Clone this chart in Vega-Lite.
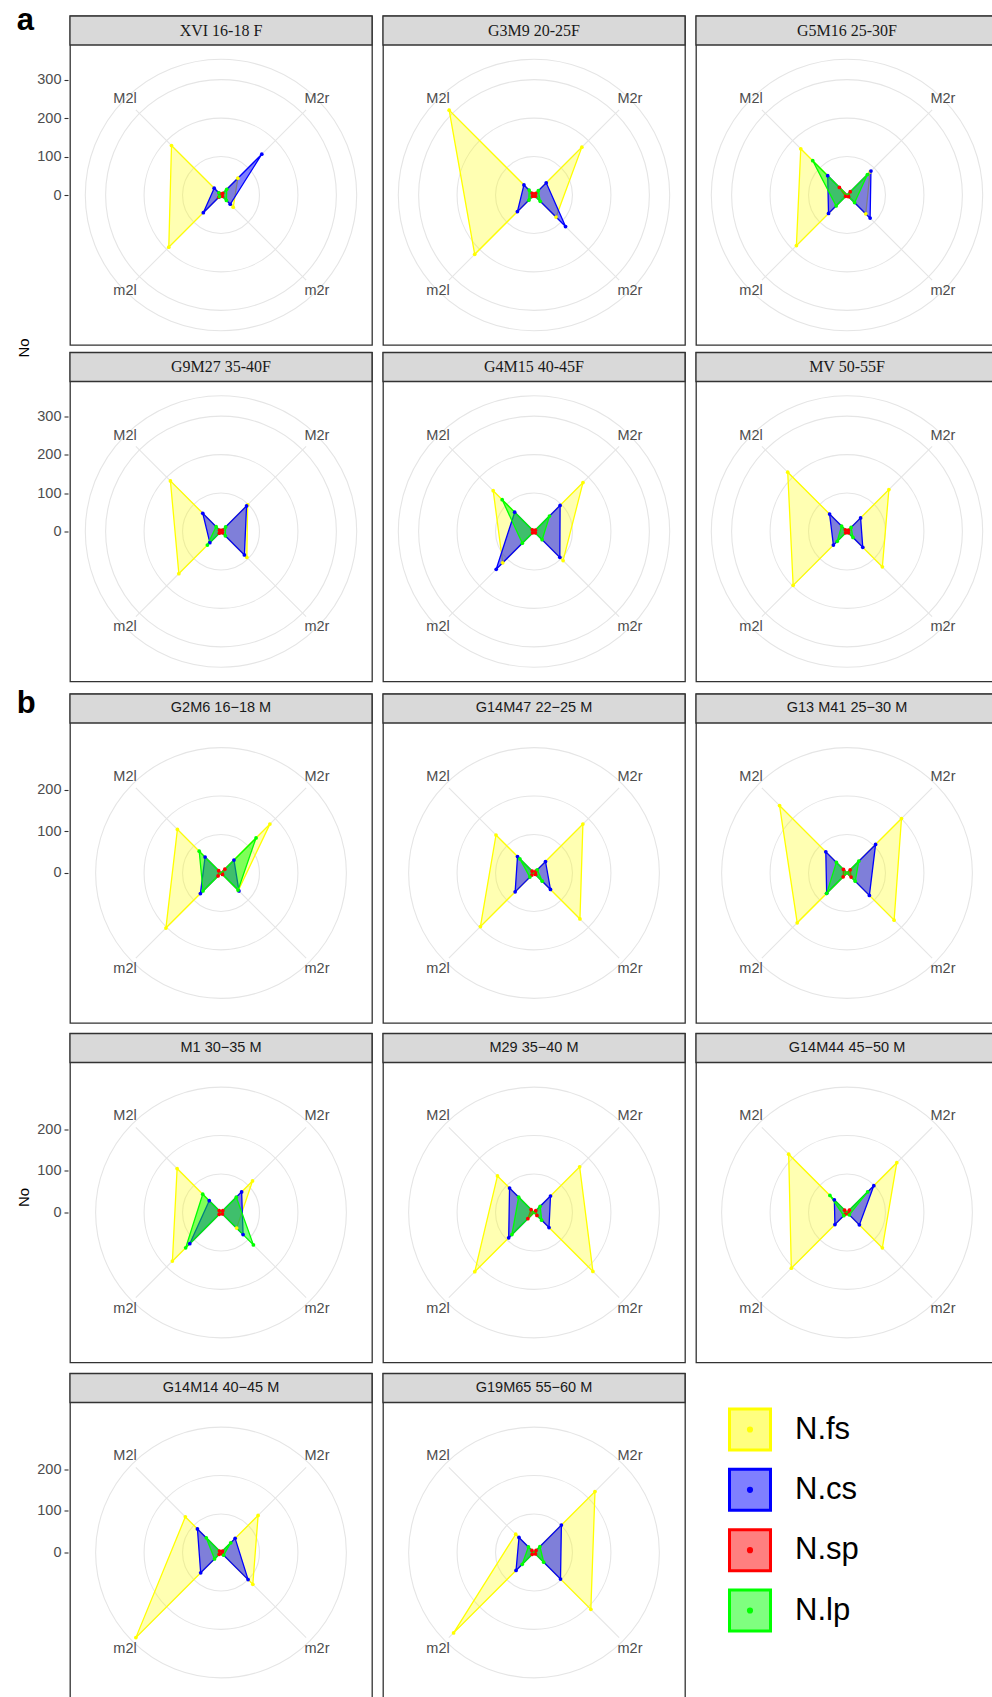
{
"$schema": "https://vega.github.io/schema/vega-lite/v6.json",
"background": "white",
"padding": {"left": 16, "top": 4, "right": 0, "bottom": 0},
"spacing": 4,
"datasets": {
"A": [
{"p":"XVI 16-18 F","s":"N.fs","M2r":62,"M2l":182,"m2l":192,"m2r":45},
{"p":"XVI 16-18 F","s":"N.cs","M2r":150,"M2l":25,"m2l":65,"m2r":34},
{"p":"XVI 16-18 F","s":"N.sp","M2r":6,"M2l":6,"m2l":8,"m2r":5},
{"p":"XVI 16-18 F","s":"N.lp","M2r":21,"M2l":8,"m2l":6,"m2r":20},
{"p":"G3M9 20-25F","s":"N.fs","M2r":176,"M2l":312,"m2l":218,"m2r":81},
{"p":"G3M9 20-25F","s":"N.cs","M2r":45,"M2l":37,"m2l":61,"m2r":116},
{"p":"G3M9 20-25F","s":"N.sp","M2r":6,"M2l":6,"m2l":5,"m2r":5},
{"p":"G3M9 20-25F","s":"N.lp","M2r":16,"M2l":18,"m2l":19,"m2r":23},
{"p":"G5M16 25-30F","s":"N.fs","M2r":85,"M2l":170,"m2l":186,"m2r":69},
{"p":"G5M16 25-30F","s":"N.cs","M2r":88,"M2l":71,"m2l":68,"m2r":85},
{"p":"G5M16 25-30F","s":"N.sp","M2r":12,"M2l":28,"m2l":5,"m2r":6},
{"p":"G5M16 25-30F","s":"N.lp","M2r":75,"M2l":126,"m2l":40,"m2r":28},
{"p":"G9M27 35-40F","s":"N.fs","M2r":98,"M2l":186,"m2l":155,"m2r":95},
{"p":"G9M27 35-40F","s":"N.cs","M2r":94,"M2l":67,"m2l":41,"m2r":86},
{"p":"G9M27 35-40F","s":"N.sp","M2r":5,"M2l":5,"m2l":6,"m2r":5},
{"p":"G9M27 35-40F","s":"N.lp","M2r":17,"M2l":18,"m2l":50,"m2r":16},
{"p":"G4M15 40-45F","s":"N.fs","M2r":180,"M2l":150,"m2l":115,"m2r":107},
{"p":"G4M15 40-45F","s":"N.cs","M2r":96,"M2l":71,"m2l":139,"m2r":95},
{"p":"G4M15 40-45F","s":"N.sp","M2r":5,"M2l":6,"m2l":5,"m2r":5},
{"p":"G4M15 40-45F","s":"N.lp","M2r":57,"M2l":117,"m2l":43,"m2r":30},
{"p":"MV 50-55F","s":"N.fs","M2r":154,"M2l":218,"m2l":198,"m2r":130},
{"p":"MV 50-55F","s":"N.cs","M2r":50,"M2l":64,"m2l":50,"m2r":58},
{"p":"MV 50-55F","s":"N.sp","M2r":5,"M2l":6,"m2l":5,"m2r":5},
{"p":"MV 50-55F","s":"N.lp","M2r":15,"M2l":20,"m2l":36,"m2r":22}
],
"B": [
{"p":"G2M6 16−18 M","s":"N.fs","M2r":166,"M2l":148,"m2l":187,"m2r":59},
{"p":"G2M6 16−18 M","s":"N.cs","M2r":44,"M2l":54,"m2l":70,"m2r":61},
{"p":"G2M6 16−18 M","s":"N.sp","M2r":13,"M2l":8,"m2l":10,"m2r":5},
{"p":"G2M6 16−18 M","s":"N.lp","M2r":119,"M2l":74,"m2l":61,"m2r":58},
{"p":"G14M47 22−25 M","s":"N.fs","M2r":166,"M2l":129,"m2l":182,"m2r":156},
{"p":"G14M47 22−25 M","s":"N.cs","M2r":39,"M2l":56,"m2l":64,"m2r":56},
{"p":"G14M47 22−25 M","s":"N.sp","M2r":6,"M2l":6,"m2l":7,"m2r":5},
{"p":"G14M47 22−25 M","s":"N.lp","M2r":11,"M2l":48,"m2l":14,"m2r":28},
{"p":"G13 M41 25−30 M","s":"N.fs","M2r":185,"M2l":229,"m2l":169,"m2r":160},
{"p":"G13 M41 25−30 M","s":"N.cs","M2r":97,"M2l":72,"m2l":69,"m2r":76},
{"p":"G13 M41 25−30 M","s":"N.sp","M2r":11,"M2l":12,"m2l":13,"m2r":14},
{"p":"G13 M41 25−30 M","s":"N.lp","M2r":40,"M2l":36,"m2l":69,"m2r":28},
{"p":"M1 30−35 M","s":"N.fs","M2r":107,"M2l":149,"m2l":165,"m2r":53},
{"p":"M1 30−35 M","s":"N.cs","M2r":70,"M2l":40,"m2l":106,"m2r":75},
{"p":"M1 30−35 M","s":"N.sp","M2r":6,"M2l":6,"m2l":6,"m2r":5},
{"p":"M1 30−35 M","s":"N.lp","M2r":52,"M2l":62,"m2l":120,"m2r":110},
{"p":"M29 35−40 M","s":"N.fs","M2r":155,"M2l":124,"m2l":201,"m2r":200},
{"p":"M29 35−40 M","s":"N.cs","M2r":56,"M2l":83,"m2l":86,"m2r":51},
{"p":"M29 35−40 M","s":"N.sp","M2r":6,"M2l":10,"m2l":21,"m2r":10},
{"p":"M29 35−40 M","s":"N.lp","M2r":21,"M2l":52,"m2l":75,"m2r":26},
{"p":"G14M44 45−50 M","s":"N.fs","M2r":169,"M2l":198,"m2l":189,"m2r":120},
{"p":"G14M44 45−50 M","s":"N.cs","M2r":91,"M2l":43,"m2l":41,"m2r":42},
{"p":"G14M44 45−50 M","s":"N.sp","M2r":8,"M2l":8,"m2l":6,"m2r":5},
{"p":"G14M44 45−50 M","s":"N.lp","M2r":70,"M2l":58,"m2l":11,"m2r":8},
{"p":"G14M14 40−45 M","s":"N.fs","M2r":126,"M2l":121,"m2l":289,"m2r":108},
{"p":"G14M14 40−45 M","s":"N.cs","M2r":48,"M2l":80,"m2l":69,"m2r":92},
{"p":"G14M14 40−45 M","s":"N.sp","M2r":5,"M2l":5,"m2l":6,"m2r":5},
{"p":"G14M14 40−45 M","s":"N.lp","M2r":33,"M2l":50,"m2l":22,"m2r":9},
{"p":"G19M65 55−60 M","s":"N.fs","M2r":207,"M2l":62,"m2l":273,"m2r":193},
{"p":"G19M65 55−60 M","s":"N.cs","M2r":93,"M2l":51,"m2l":61,"m2r":90},
{"p":"G19M65 55−60 M","s":"N.sp","M2r":7,"M2l":7,"m2l":6,"m2r":5},
{"p":"G19M65 55−60 M","s":"N.lp","M2r":20,"M2l":19,"m2l":40,"m2r":33}
],
"L": [{"s":"N.fs"},{"s":"N.cs"},{"s":"N.sp"},{"s":"N.lp"}]
},
"vconcat": [
{
"title": {"text": "a", "orient": "top", "anchor": "start", "frame": "bounds", "offset": -23, "fontSize": 31, "fontWeight": "bold", "font": "Liberation Sans", "color": "#000000"},
"vconcat": [
{
"title": {"text": "No", "orient": "left", "anchor": "middle", "offset": 5, "fontSize": 15, "fontWeight": "normal", "font": "Liberation Sans", "color": "#000000"},
"data": {"name": "A"},
"transform": [
{"fold": ["M2r","M2l","m2l","m2r"], "as": ["axis","r"]},
{"calculate": "(datum.axis == 'M2r' || datum.axis == 'm2r') ? 1 : -1", "as": "sx"},
{"calculate": "(datum.axis == 'M2r' || datum.axis == 'M2l') ? 1 : -1", "as": "sy"},
{"calculate": "datum.r * datum.sx * 0.70711", "as": "px"},
{"calculate": "datum.r * datum.sy * 0.70711", "as": "py"},
{"calculate": "indexof(['M2l','m2l','M2r','m2r'], datum.axis)", "as": "ord"},
{"calculate": "0", "as": "z"},
{"calculate": "-392.6", "as": "xa"},
{"calculate": "392.6", "as": "xb"},
{"calculate": "390", "as": "ya"},
{"calculate": "465.4", "as": "yb"},
{"calculate": "427.7", "as": "yt"},
{"calculate": "datum.sx * 221.3", "as": "gx"},
{"calculate": "datum.sy * 221.3", "as": "gy"},
{"calculate": "datum.sx * 249.5", "as": "lx"},
{"calculate": "datum.sy * 249.5", "as": "ly"}
],
"facet": {"field": "p", "type": "nominal", "title": null, "header": {"labelExpr": "''", "labelPadding": 0, "labelFontSize": 1},
"sort": ["XVI 16-18 F","G3M9 20-25F","G5M16 25-30F","G9M27 35-40F","G4M15 40-45F","MV 50-55F"]},
"columns": 3,
"spacing": {"row": 3.5, "column": 7},
"spec": {
"width": 302, "height": 329,
"encoding": {
"x": {"field": "px", "type": "quantitative", "scale": {"domain": [-392.6, 392.6], "nice": false, "zero": false}, "axis": null},
"y": {"field": "py", "type": "quantitative", "scale": {"domain": [-390, 465.4], "nice": false, "zero": false}, "axis": {"values": [0, 100, 200, 300], "title": null}}
},
"layer": [
{"transform": [{"filter": "datum.s == 'N.fs' && datum.axis == 'M2r'"}],
"mark": {"type": "rect", "fill": "#d9d9d9", "stroke": "#333333", "strokeWidth": 1.3},
"encoding": {"x": {"field": "xa", "type": "quantitative"}, "x2": {"field": "xb"}, "y": {"field": "ya", "type": "quantitative"}, "y2": {"field": "yb"}}},
{"transform": [{"filter": "datum.s == 'N.fs' && datum.axis == 'M2r'"}],
"mark": {"type": "text", "font": "Liberation Serif", "fontSize": 16, "color": "#1a1a1a", "align": "center", "baseline": "middle"},
"encoding": {"x": {"field": "z", "type": "quantitative"}, "y": {"field": "yt", "type": "quantitative"}, "text": {"field": "p", "type": "nominal"}}},
{"transform": [{"filter": "datum.s == 'N.fs' && datum.axis == 'M2r'"}, {"calculate": "[100, 200, 300, 352.8]", "as": "ring"}, {"flatten": ["ring"]}],
"mark": {"type": "point", "shape": "circle", "filled": false, "stroke": "#e5e5e5", "strokeWidth": 1.1, "opacity": 1},
"encoding": {"x": {"field": "z", "type": "quantitative"}, "y": {"field": "z", "type": "quantitative"},
"size": {"field": "ring", "type": "quantitative", "scale": {"type": "pow", "exponent": 2, "domain": [0, 390], "range": [0, 90000], "zero": true, "nice": false}, "legend": null}}},
{"transform": [{"filter": "datum.s == 'N.fs'"}],
"mark": {"type": "rule", "stroke": "#e5e5e5", "strokeWidth": 1.1},
"encoding": {"x": {"field": "z", "type": "quantitative"}, "y": {"field": "z", "type": "quantitative"}, "x2": {"field": "gx"}, "y2": {"field": "gy"}}},
{"transform": [{"filter": "datum.s == 'N.fs'"}],
"mark": {"type": "text", "font": "Liberation Sans", "fontSize": 14.5, "color": "#4d4d4d", "align": "center", "baseline": "middle"},
"encoding": {"x": {"field": "lx", "type": "quantitative"}, "y": {"field": "ly", "type": "quantitative"}, "text": {"field": "axis", "type": "nominal"}}},
{"mark": {"type": "line", "interpolate": "linear-closed", "strokeWidth": 1.3},
"encoding": {
"color": {"field": "s", "type": "nominal", "scale": {"domain": ["N.fs","N.cs","N.sp","N.lp"], "range": ["#ffff00","#0000ff","#ff0000","#00ff00"]}, "legend": null},
"fill": {"field": "s", "type": "nominal", "scale": {"domain": ["N.fs","N.cs","N.sp","N.lp"], "range": ["#ffff00","#0000ff","#ff0000","#00ff00"]}, "legend": null},
"fillOpacity": {"field": "s", "type": "ordinal", "scale": {"type": "ordinal", "domain": ["N.fs","N.cs","N.sp","N.lp"], "range": [0.3, 0.5, 0.5, 0.5]}, "legend": null},
"order": {"field": "ord", "type": "quantitative"}}},
{"mark": {"type": "point", "filled": true, "size": 14, "opacity": 1},
"encoding": {
"color": {"field": "s", "type": "nominal", "scale": {"domain": ["N.fs","N.cs","N.sp","N.lp"], "range": ["#ffff00","#0000ff","#ff0000","#00ff00"]}, "legend": null}}}
]
}
}
]
},
{
"title": {"text": "b", "orient": "top", "anchor": "start", "frame": "bounds", "offset": -28, "fontSize": 31, "fontWeight": "bold", "font": "Liberation Sans", "color": "#000000"},
"vconcat": [
{
"title": {"text": "No", "orient": "left", "anchor": "middle", "offset": 5, "fontSize": 15, "fontWeight": "normal", "font": "Liberation Sans", "color": "#000000"},
"spacing": 6.5,
"vconcat": [
{
"data": {"name": "B"},
"transform": [
{"filter": {"not": {"field": "p", "oneOf": ["G14M14 40−45 M","G19M65 55−60 M"]}}},
{"fold": ["M2r","M2l","m2l","m2r"], "as": ["axis","r"]},
{"calculate": "(datum.axis == 'M2r' || datum.axis == 'm2r') ? 1 : -1", "as": "sx"},
{"calculate": "(datum.axis == 'M2r' || datum.axis == 'M2l') ? 1 : -1", "as": "sy"},
{"calculate": "datum.r * datum.sx * 0.70711", "as": "px"},
{"calculate": "datum.r * datum.sy * 0.70711", "as": "py"},
{"calculate": "indexof(['M2l','m2l','M2r','m2r'], datum.axis)", "as": "ord"},
{"calculate": "0", "as": "z"},
{"calculate": "-362.5", "as": "xa"},
{"calculate": "362.5", "as": "xb"},
{"calculate": "360.1", "as": "ya"},
{"calculate": "429.7", "as": "yb"},
{"calculate": "394.9", "as": "yt"},
{"calculate": "datum.sx * 204.4", "as": "gx"},
{"calculate": "datum.sy * 204.4", "as": "gy"},
{"calculate": "datum.sx * 230.5", "as": "lx"},
{"calculate": "datum.sy * 230.5", "as": "ly"}
],
"facet": {"field": "p", "type": "nominal", "title": null, "header": {"labelExpr": "''", "labelPadding": 0, "labelFontSize": 1},
"sort": ["G2M6 16−18 M","G14M47 22−25 M","G13 M41 25−30 M","M1 30−35 M","M29 35−40 M","G14M44 45−50 M"]},
"columns": 3,
"spacing": {"row": 6.5, "column": 7},
"spec": {
"width": 302, "height": 329,
"encoding": {
"x": {"field": "px", "type": "quantitative", "scale": {"domain": [-362.5, 362.5], "nice": false, "zero": false}, "axis": null},
"y": {"field": "py", "type": "quantitative", "scale": {"domain": [-360.1, 429.7], "nice": false, "zero": false}, "axis": {"values": [0, 100, 200], "title": null}}
},
"layer": [
{"transform": [{"filter": "datum.s == 'N.fs' && datum.axis == 'M2r'"}],
"mark": {"type": "rect", "fill": "#d9d9d9", "stroke": "#333333", "strokeWidth": 1.3},
"encoding": {"x": {"field": "xa", "type": "quantitative"}, "x2": {"field": "xb"}, "y": {"field": "ya", "type": "quantitative"}, "y2": {"field": "yb"}}},
{"transform": [{"filter": "datum.s == 'N.fs' && datum.axis == 'M2r'"}],
"mark": {"type": "text", "font": "Liberation Sans", "fontSize": 14.5, "color": "#1a1a1a", "align": "center", "baseline": "middle"},
"encoding": {"x": {"field": "z", "type": "quantitative"}, "y": {"field": "yt", "type": "quantitative"}, "text": {"field": "p", "type": "nominal"}}},
{"transform": [{"filter": "datum.s == 'N.fs' && datum.axis == 'M2r'"}, {"calculate": "[100, 200, 326]", "as": "ring"}, {"flatten": ["ring"]}],
"mark": {"type": "point", "shape": "circle", "filled": false, "stroke": "#e5e5e5", "strokeWidth": 1.1, "opacity": 1},
"encoding": {"x": {"field": "z", "type": "quantitative"}, "y": {"field": "z", "type": "quantitative"},
"size": {"field": "ring", "type": "quantitative", "scale": {"type": "pow", "exponent": 2, "domain": [0, 360.1], "range": [0, 90000], "zero": true, "nice": false}, "legend": null}}},
{"transform": [{"filter": "datum.s == 'N.fs'"}],
"mark": {"type": "rule", "stroke": "#e5e5e5", "strokeWidth": 1.1},
"encoding": {"x": {"field": "z", "type": "quantitative"}, "y": {"field": "z", "type": "quantitative"}, "x2": {"field": "gx"}, "y2": {"field": "gy"}}},
{"transform": [{"filter": "datum.s == 'N.fs'"}],
"mark": {"type": "text", "font": "Liberation Sans", "fontSize": 14.5, "color": "#4d4d4d", "align": "center", "baseline": "middle"},
"encoding": {"x": {"field": "lx", "type": "quantitative"}, "y": {"field": "ly", "type": "quantitative"}, "text": {"field": "axis", "type": "nominal"}}},
{"mark": {"type": "line", "interpolate": "linear-closed", "strokeWidth": 1.3},
"encoding": {
"color": {"field": "s", "type": "nominal", "scale": {"domain": ["N.fs","N.cs","N.sp","N.lp"], "range": ["#ffff00","#0000ff","#ff0000","#00ff00"]}, "legend": null},
"fill": {"field": "s", "type": "nominal", "scale": {"domain": ["N.fs","N.cs","N.sp","N.lp"], "range": ["#ffff00","#0000ff","#ff0000","#00ff00"]}, "legend": null},
"fillOpacity": {"field": "s", "type": "ordinal", "scale": {"type": "ordinal", "domain": ["N.fs","N.cs","N.sp","N.lp"], "range": [0.3, 0.5, 0.5, 0.5]}, "legend": null},
"order": {"field": "ord", "type": "quantitative"}}},
{"mark": {"type": "point", "filled": true, "size": 14, "opacity": 1},
"encoding": {
"color": {"field": "s", "type": "nominal", "scale": {"domain": ["N.fs","N.cs","N.sp","N.lp"], "range": ["#ffff00","#0000ff","#ff0000","#00ff00"]}, "legend": null}}}
]
}
},
{
"spacing": 7,
"hconcat": [
{
"data": {"name": "B"},
"transform": [
{"filter": {"field": "p", "oneOf": ["G14M14 40−45 M","G19M65 55−60 M"]}},
{"fold": ["M2r","M2l","m2l","m2r"], "as": ["axis","r"]},
{"calculate": "(datum.axis == 'M2r' || datum.axis == 'm2r') ? 1 : -1", "as": "sx"},
{"calculate": "(datum.axis == 'M2r' || datum.axis == 'M2l') ? 1 : -1", "as": "sy"},
{"calculate": "datum.r * datum.sx * 0.70711", "as": "px"},
{"calculate": "datum.r * datum.sy * 0.70711", "as": "py"},
{"calculate": "indexof(['M2l','m2l','M2r','m2r'], datum.axis)", "as": "ord"},
{"calculate": "0", "as": "z"},
{"calculate": "-362.5", "as": "xa"},
{"calculate": "362.5", "as": "xb"},
{"calculate": "360.1", "as": "ya"},
{"calculate": "429.7", "as": "yb"},
{"calculate": "394.9", "as": "yt"},
{"calculate": "datum.sx * 204.4", "as": "gx"},
{"calculate": "datum.sy * 204.4", "as": "gy"},
{"calculate": "datum.sx * 230.5", "as": "lx"},
{"calculate": "datum.sy * 230.5", "as": "ly"}
],
"facet": {"field": "p", "type": "nominal", "title": null, "header": {"labelExpr": "''", "labelPadding": 0, "labelFontSize": 1},
"sort": ["G14M14 40−45 M","G19M65 55−60 M"]},
"columns": 2,
"spacing": {"row": 6.5, "column": 7},
"spec": {
"width": 302, "height": 329,
"encoding": {
"x": {"field": "px", "type": "quantitative", "scale": {"domain": [-362.5, 362.5], "nice": false, "zero": false}, "axis": null},
"y": {"field": "py", "type": "quantitative", "scale": {"domain": [-360.1, 429.7], "nice": false, "zero": false}, "axis": {"values": [0, 100, 200], "title": null}}
},
"layer": [
{"transform": [{"filter": "datum.s == 'N.fs' && datum.axis == 'M2r'"}],
"mark": {"type": "rect", "fill": "#d9d9d9", "stroke": "#333333", "strokeWidth": 1.3},
"encoding": {"x": {"field": "xa", "type": "quantitative"}, "x2": {"field": "xb"}, "y": {"field": "ya", "type": "quantitative"}, "y2": {"field": "yb"}}},
{"transform": [{"filter": "datum.s == 'N.fs' && datum.axis == 'M2r'"}],
"mark": {"type": "text", "font": "Liberation Sans", "fontSize": 14.5, "color": "#1a1a1a", "align": "center", "baseline": "middle"},
"encoding": {"x": {"field": "z", "type": "quantitative"}, "y": {"field": "yt", "type": "quantitative"}, "text": {"field": "p", "type": "nominal"}}},
{"transform": [{"filter": "datum.s == 'N.fs' && datum.axis == 'M2r'"}, {"calculate": "[100, 200, 326]", "as": "ring"}, {"flatten": ["ring"]}],
"mark": {"type": "point", "shape": "circle", "filled": false, "stroke": "#e5e5e5", "strokeWidth": 1.1, "opacity": 1},
"encoding": {"x": {"field": "z", "type": "quantitative"}, "y": {"field": "z", "type": "quantitative"},
"size": {"field": "ring", "type": "quantitative", "scale": {"type": "pow", "exponent": 2, "domain": [0, 360.1], "range": [0, 90000], "zero": true, "nice": false}, "legend": null}}},
{"transform": [{"filter": "datum.s == 'N.fs'"}],
"mark": {"type": "rule", "stroke": "#e5e5e5", "strokeWidth": 1.1},
"encoding": {"x": {"field": "z", "type": "quantitative"}, "y": {"field": "z", "type": "quantitative"}, "x2": {"field": "gx"}, "y2": {"field": "gy"}}},
{"transform": [{"filter": "datum.s == 'N.fs'"}],
"mark": {"type": "text", "font": "Liberation Sans", "fontSize": 14.5, "color": "#4d4d4d", "align": "center", "baseline": "middle"},
"encoding": {"x": {"field": "lx", "type": "quantitative"}, "y": {"field": "ly", "type": "quantitative"}, "text": {"field": "axis", "type": "nominal"}}},
{"mark": {"type": "line", "interpolate": "linear-closed", "strokeWidth": 1.3},
"encoding": {
"color": {"field": "s", "type": "nominal", "scale": {"domain": ["N.fs","N.cs","N.sp","N.lp"], "range": ["#ffff00","#0000ff","#ff0000","#00ff00"]}, "legend": null},
"fill": {"field": "s", "type": "nominal", "scale": {"domain": ["N.fs","N.cs","N.sp","N.lp"], "range": ["#ffff00","#0000ff","#ff0000","#00ff00"]}, "legend": null},
"fillOpacity": {"field": "s", "type": "ordinal", "scale": {"type": "ordinal", "domain": ["N.fs","N.cs","N.sp","N.lp"], "range": [0.3, 0.5, 0.5, 0.5]}, "legend": null},
"order": {"field": "ord", "type": "quantitative"}}},
{"mark": {"type": "point", "filled": true, "size": 14, "opacity": 1},
"encoding": {
"color": {"field": "s", "type": "nominal", "scale": {"domain": ["N.fs","N.cs","N.sp","N.lp"], "range": ["#ffff00","#0000ff","#ff0000","#00ff00"]}, "legend": null}}}
]
}
},
{
"width": 302, "height": 329,
"view": {"stroke": null},
"data": {"name": "L"},
"transform": [{"calculate": "56", "as": "cx"}, {"calculate": "101", "as": "tx"}],
"encoding": {
"y": {"field": "s", "type": "nominal", "scale": {"type": "point", "padding": 0, "domain": ["N.fs","N.cs","N.sp","N.lp"], "range": [56, 237]}, "axis": null}
},
"layer": [
{"mark": {"type": "point", "shape": "square", "size": 1681, "filled": true, "fillOpacity": 0.5, "strokeWidth": 3, "opacity": 1},
"encoding": {
"x": {"field": "cx", "type": "quantitative", "scale": {"domain": [0, 302], "nice": false, "zero": false}, "axis": null},
"color": {"field": "s", "type": "nominal", "scale": {"domain": ["N.fs","N.cs","N.sp","N.lp"], "range": ["#ffff00","#0000ff","#ff0000","#00ff00"]}, "legend": null},
"stroke": {"field": "s", "type": "nominal", "scale": {"domain": ["N.fs","N.cs","N.sp","N.lp"], "range": ["#ffff00","#0000ff","#ff0000","#00ff00"]}, "legend": null}}},
{"mark": {"type": "point", "shape": "circle", "size": 38, "filled": true, "opacity": 1},
"encoding": {
"x": {"field": "cx", "type": "quantitative", "scale": {"domain": [0, 302], "nice": false, "zero": false}, "axis": null},
"color": {"field": "s", "type": "nominal", "scale": {"domain": ["N.fs","N.cs","N.sp","N.lp"], "range": ["#ffff00","#0000ff","#ff0000","#00ff00"]}, "legend": null}}},
{"mark": {"type": "text", "align": "left", "baseline": "middle", "fontSize": 31, "font": "Liberation Sans", "color": "#000000"},
"encoding": {
"x": {"field": "tx", "type": "quantitative", "scale": {"domain": [0, 302], "nice": false, "zero": false}, "axis": null},
"text": {"field": "s", "type": "nominal"}}}
]
}
]
}
]
}
]
}
],
"config": {
"font": "Liberation Sans",
"view": {"stroke": "#333333", "strokeWidth": 1.3},
"axis": {"grid": false, "domain": false, "ticks": true, "tickColor": "#333333", "tickSize": 4, "tickWidth": 1.1, "labelColor": "#4d4d4d", "labelFontSize": 14.5, "labelFont": "Liberation Sans", "labelPadding": 3}
}
}
